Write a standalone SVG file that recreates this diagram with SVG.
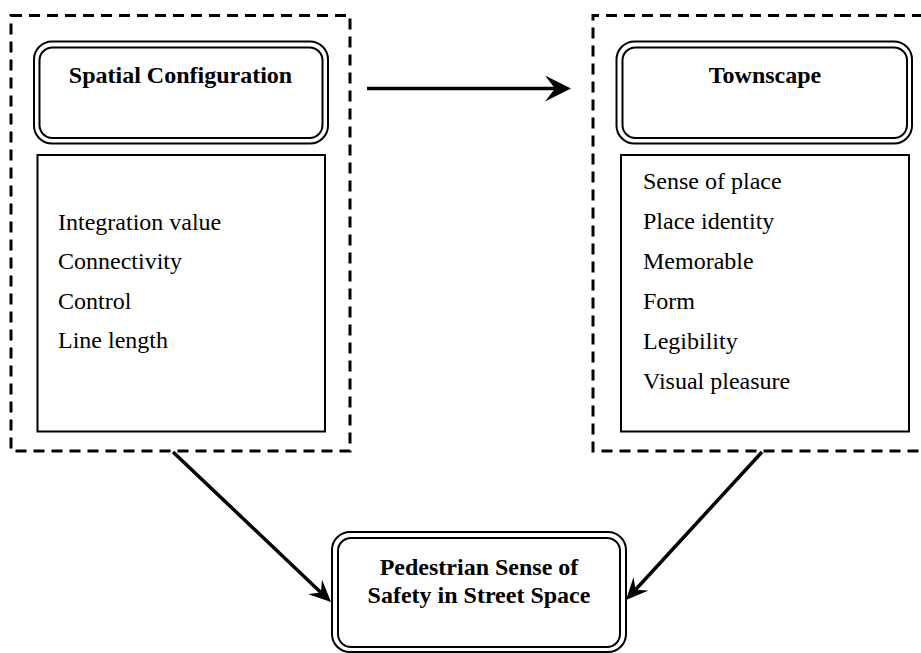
<svg xmlns="http://www.w3.org/2000/svg" width="921" height="653" viewBox="0 0 921 653">
<style>
.dash{fill:none;stroke:#000;stroke-width:3;stroke-dasharray:11 7}
.box{fill:none;stroke:#000;stroke-width:2}
.conn{fill:none;stroke:#000;stroke-width:3.5}
.t{font-family:"Liberation Serif","Times New Roman",serif;font-size:24px;fill:#000}
.b{font-weight:bold;text-anchor:middle}
</style>
<defs>
<marker id="ah" markerUnits="userSpaceOnUse" viewBox="0 0 26 26" markerWidth="26" markerHeight="26" refX="10" refY="13" orient="auto">
<path d="M0,0 L26,13 L0,26 L10,13 z" fill="#000"/>
</marker>
<marker id="ah2" markerUnits="userSpaceOnUse" viewBox="0 0 22 20" markerWidth="22" markerHeight="20" refX="8" refY="10" orient="auto">
<path d="M0,0 L22,10 L0,20 L8,10 z" fill="#000"/>
</marker>
</defs>
<rect width="921" height="653" fill="#fff"/>
<g id="group-spatial">
<rect class="dash" x="11" y="15.5" width="339" height="435.5"/>
</g>
<g id="group-townscape">
<path class="dash" d="M923,15.5 H593 V451 H923"/>
</g>
<g id="spatial-configuration">
<rect class="box" x="34" y="41.5" width="294" height="102" rx="18"/>
<rect class="box" x="39.5" y="47.5" width="283" height="90.5" rx="13"/>
<text class="t b" x="180.5" y="83">Spatial Configuration</text>
</g>
<g id="spatial-list">
<rect class="box" x="37.5" y="155" width="287.5" height="276.5"/>
<text class="t" x="58" y="229.5">Integration value</text>
<text class="t" x="58" y="269">Connectivity</text>
<text class="t" x="58" y="308.5">Control</text>
<text class="t" x="58" y="347.5">Line length</text>
</g>
<g id="townscape">
<rect class="box" x="616.5" y="41.5" width="295.5" height="102" rx="18"/>
<rect class="box" x="622.5" y="47.5" width="284.5" height="90.5" rx="13"/>
<text class="t b" x="765" y="83">Townscape</text>
</g>
<g id="townscape-list">
<rect class="box" x="621" y="155" width="288" height="276.5"/>
<text class="t" x="643" y="189">Sense of place</text>
<text class="t" x="643" y="229">Place identity</text>
<text class="t" x="643" y="269">Memorable</text>
<text class="t" x="643" y="309">Form</text>
<text class="t" x="643" y="348.5">Legibility</text>
<text class="t" x="643" y="388.5">Visual pleasure</text>
</g>
<g id="pedestrian-safety">
<rect class="box" x="332" y="532" width="294" height="120" rx="18"/>
<rect class="box" x="338" y="538" width="282" height="109" rx="13"/>
<text class="t b" x="479" y="575">Pedestrian Sense of</text>
<text class="t b" x="479" y="603">Safety in Street Space</text>
</g>
<g id="connectors">
<line class="conn" x1="367" y1="88.5" x2="555" y2="88.5" stroke-width="4" marker-end="url(#ah)"/>
<line class="conn" x1="173" y1="452" x2="320.9" y2="592.4" marker-end="url(#ah2)"/>
<line class="conn" x1="762" y1="452" x2="635.5" y2="589.7" marker-end="url(#ah2)"/>
</g>
</svg>
